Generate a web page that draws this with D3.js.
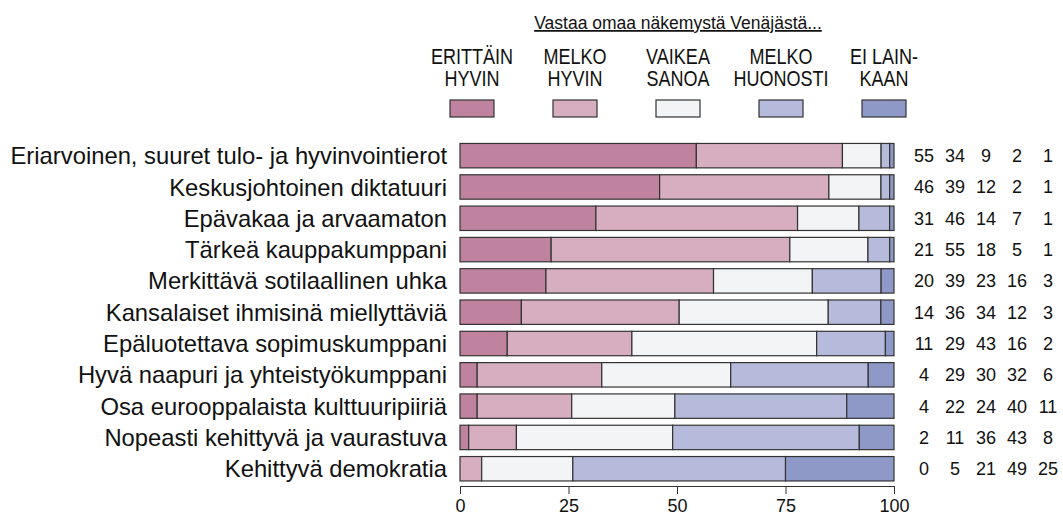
<html>
<head>
    <meta charset="utf-8">
    <script src="https://d3js.org/d3.v7.min.js"></script>
    <style>
        body { margin: 0; background: #fff; }
        text { font-family: "Liberation Sans", Arial, sans-serif; fill: #111; }
        .seg { stroke: #333; stroke-width: 1.2px; }
    </style>
</head>
<body>
    <script>
        // categories, top to bottom
        var categories = [
            "Eriarvoinen, suuret tulo- ja hyvinvointierot",
            "Keskusjohtoinen diktatuuri",
            "Epävakaa ja arvaamaton",
            "Tärkeä kauppakumppani",
            "Merkittävä sotilaallinen uhka",
            "Kansalaiset ihmisinä miellyttäviä",
            "Epäluotettava sopimuskumppani",
            "Hyvä naapuri ja yhteistyökumppani",
            "Osa eurooppalaista kulttuuripiiriä",
            "Nopeasti kehittyvä ja vaurastuva",
            "Kehittyvä demokratia"
        ];
        var erittainHyvin = [55, 46, 31, 21, 20, 14, 11, 4, 4, 2, 0];
        var melkoHyvin    = [34, 39, 46, 55, 39, 36, 29, 29, 22, 11, 5];
        var vaikeaSanoa   = [9, 12, 14, 18, 23, 34, 43, 30, 24, 36, 21];
        var melkoHuonosti = [2, 2, 7, 5, 16, 12, 16, 32, 40, 43, 49];
        var eiLainkaan    = [1, 1, 1, 1, 3, 3, 2, 6, 11, 8, 25];

        var legendLabels = [["ERITTÄIN", "HYVIN"], ["MELKO", "HYVIN"], ["VAIKEA", "SANOA"], ["MELKO", "HUONOSTI"], ["EI LAIN-", "KAAN"]];
        var colors = ["#bf83a0", "#d6aec0", "#f3f4f6", "#b6badb", "#8e99c8"];
        var ticks = [0, 25, 50, 75, 100];
        var title = "Vastaa omaa näkemystä Venäjästä...";

        var series = [erittainHyvin, melkoHyvin, vaikeaSanoa, melkoHuonosti, eiLainkaan];
        var rows = categories.map(function (c, i) {
            var vals = series.map(function (s) { return s[i]; });
            var total = d3.sum(vals);
            var acc = 0;
            var segs = vals.map(function (v, k) {
                var s = { x0: acc / total * 100, x1: (acc + v) / total * 100, k: k };
                acc += v;
                return s;
            });
            return { name: c, vals: vals, segs: segs };
        });

        var width = 1063, height = 515;
        var svg = d3.select("body").append("svg")
            .attr("width", width)
            .attr("height", height);

        var x = d3.scaleLinear().domain([0, 100]).range([460, 894]);
        var y = d3.scaleBand().domain(categories).range([140, 484.4]).paddingInner(0.22).paddingOuter(0.11);

        // bars
        var row = svg.selectAll(".row")
            .data(rows)
            .enter().append("g")
            .attr("class", "row")
            .attr("transform", function (d) { return "translate(0," + y(d.name) + ")"; });

        row.selectAll("rect")
            .data(function (d) { return d.segs.filter(function (s) { return s.x1 > s.x0; }); })
            .enter().append("rect")
            .attr("class", "seg")
            .attr("x", function (s) { return x(s.x0); })
            .attr("width", function (s) { return x(s.x1) - x(s.x0); })
            .attr("height", y.bandwidth())
            .attr("fill", function (s) { return colors[s.k]; });

        // category labels
        row.append("text")
            .attr("x", 447)
            .attr("y", y.bandwidth() / 2)
            .attr("dy", "0.36em")
            .attr("text-anchor", "end")
            .attr("font-size", "23.8px")
            .text(function (d) { return d.name; });

        // numbers on the right
        var numX = d3.scalePoint().domain(d3.range(5)).range([924, 1048]);
        row.selectAll(".num")
            .data(function (d) { return d.vals; })
            .enter().append("text")
            .attr("class", "num")
            .attr("x", function (v, k) { return numX(k); })
            .attr("y", y.bandwidth() / 2)
            .attr("dy", "0.36em")
            .attr("text-anchor", "middle")
            .attr("font-size", "18px")
            .text(function (v) { return v; });

        // x axis
        var axis = svg.append("g")
            .attr("transform", "translate(0,486)")
            .call(d3.axisBottom(x).tickValues(ticks).tickSize(8).tickPadding(5));
        axis.select(".domain").attr("stroke", "#333");
        axis.selectAll(".tick line").attr("stroke", "#333");
        axis.selectAll(".tick text").attr("font-size", "18px").attr("fill", "#111");

        // legend
        svg.append("text")
            .attr("x", 678)
            .attr("y", 29)
            .attr("text-anchor", "middle")
            .attr("font-size", "17.5px")
            .attr("text-decoration", "underline")
            .text(title);

        var legX = d3.scalePoint().domain(d3.range(5)).range([472, 884]);
        var leg = svg.selectAll(".leg")
            .data(legendLabels)
            .enter().append("g")
            .attr("class", "leg")
            .attr("transform", function (d, i) { return "translate(" + legX(i) + ",0)"; });
        // condensed look of the legend labels
        leg.append("text")
            .attr("text-anchor", "middle")
            .attr("font-size", "22px")
            .attr("transform", "scale(0.82,1)")
            .selectAll("tspan")
            .data(function (d) { return d; })
            .enter().append("tspan")
            .attr("x", 0)
            .attr("y", function (t, j) { return 64 + j * 22; })
            .text(function (t) { return t; });
        leg.append("rect")
            .attr("class", "seg")
            .attr("x", -22)
            .attr("y", 100)
            .attr("width", 44)
            .attr("height", 17)
            .attr("fill", function (d, i) { return colors[i]; });
    </script>
</body>
</html>
